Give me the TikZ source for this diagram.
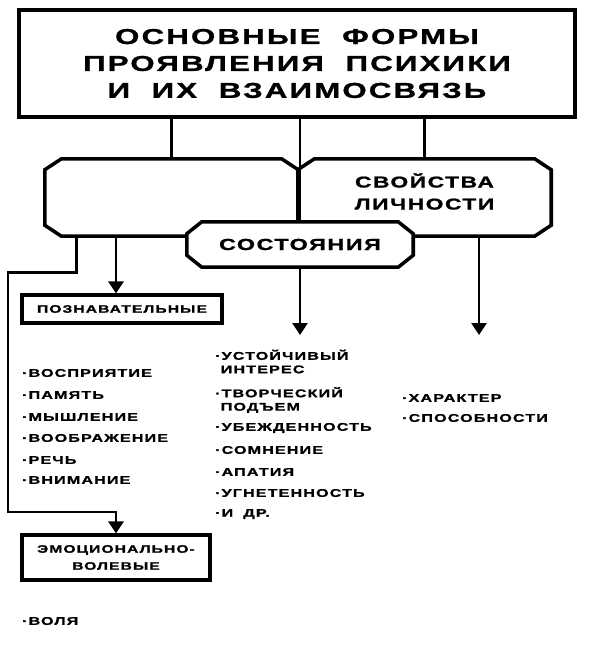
\documentclass[tikz,border=0pt]{standalone}
\usepackage{fontspec}
\newfontfamily\psyfont[FakeStretch=1.45,LetterSpace=10,BoldFeatures={FakeBold=1.2}]{Liberation Sans}
\usetikzlibrary{arrows.meta,positioning}

% octagonal frame round a node
\newcommand\octa[3]{\draw[line width=3pt,fill=white]
  ([xshift=#2]#1.north west) -- ([xshift=-#2]#1.north east) -- ([yshift=-#3]#1.north east)
  -- ([yshift=#3]#1.south east) -- ([xshift=-#2]#1.south east) -- ([xshift=#2]#1.south west)
  -- ([yshift=#3]#1.south west) -- ([yshift=-#3]#1.north west) -- cycle;}

\begin{document}
\begin{tikzpicture}[x=0.03cm,y=-0.03cm,
  every node/.style={font=\psyfont\bfseries},
  frame/.style={inner sep=0pt},
  plainbox/.style={draw,line width=2.6pt,fill=white,inner sep=0pt},
  link/.style={line width=2.4pt},
  arr/.style={link,-{Triangle[length=0.36cm,width=0.45cm]}},
  item/.style={anchor=west,align=left,font=\psyfont\bfseries\fontsize{9.5}{11.5}\selectfont}]
  \useasboundingbox (0,0) rectangle (591,651);
  % title
  \node[plainbox,line width=3.2pt,minimum width=16.68cm,minimum height=3.21cm,align=center,
    font=\psyfont\bfseries\fontsize{18.4}{23}\selectfont] (title) at (297,63.5)
    {ОСНОВНЫЕ\hspace{0.5em} ФОРМЫ\\ПРОЯВЛЕНИЯ\hspace{0.5em} ПСИХИКИ\\И\hspace{0.5em} ИХ\hspace{0.5em} ВЗАИМОСВЯЗЬ};
  % three forms
  \node[frame,minimum width=7.59cm,minimum height=2.31cm] (proc) at (171.5,197.5) {};
  \node[frame,minimum width=7.59cm,minimum height=2.31cm] (prop) at (424.5,197.5) {};
  \draw[link] (proc.north) -- (proc.north |- title.south);
  \draw[link] (prop.north) -- (prop.north |- title.south);
  \octa{proc}{0.5cm}{0.33cm}
  \octa{prop}{0.5cm}{0.33cm}
  \node[align=center,font=\psyfont\bfseries\fontsize{13.4}{18.8}\selectfont] (prop-text)
    at ([yshift=0.18cm]prop.center) {СВОЙСТВА\\ЛИЧНОСТИ};
  \node[frame,minimum width=6.78cm,minimum height=1.35cm] (state) at (300,244.5) {};
  \octa{state}{0.45cm}{0.36cm}
  \node[font=\psyfont\bfseries\fontsize{13.7}{16}\selectfont] (state-text) at (state.center) {СОСТОЯНИЯ};
  \draw[link] (state.north) -- (state.north |- title.south);
  % kinds of processes
  \node[plainbox,minimum width=6cm,minimum height=0.84cm,
    font=\psyfont\bfseries\fontsize{9.2}{10}\selectfont] (know) at (122,309) {ПОЗНАВАТЕЛЬНЫЕ};
  \node[plainbox,minimum width=5.64cm,minimum height=1.35cm,align=center,
    font=\psyfont\bfseries\fontsize{9.2}{14.5}\selectfont] (emo) at (116,557.5) {ЭМОЦИОНАЛЬНО-\\ВОЛЕВЫЕ};
  \coordinate (stateend) at (300,335);
  \coordinate (propend) at (479,335);
  \draw[arr] ([xshift=-0.18cm]know.north |- proc.south) -- ([xshift=-0.18cm]know.north);
  \draw[arr] (state.south) -- (stateend);
  \draw[arr] (propend |- prop.south) -- (propend);
  \draw[arr] ([xshift=0.96cm]proc.south west) -- ++(0,36) -| (8,512) -| (emo.north);
  % lists
  \foreach \y/\t [count=\i] in {373/ВОСПРИЯТИЕ,395/ПАМЯТЬ,417/МЫШЛЕНИЕ,438/ВООБРАЖЕНИЕ,460/РЕЧЬ,480/ВНИМАНИЕ}
    \node[item] (cog-\i) at (18,\y) {·\t};
  \foreach \y/\t [count=\i] in {361.5/{·УСТОЙЧИВЫЙ\\\ ИНТЕРЕС},400/{·ТВОРЧЕСКИЙ\\\ ПОДЪЕМ},428/·УБЕЖДЕННОСТЬ,
      450/·СОМНЕНИЕ,472/·АПАТИЯ,493/·УГНЕТЕННОСТЬ,514/{·И\hspace{0.4em} ДР.}}
    \node[item] (st-\i) at (211,\y) {\t};
  \foreach \y/\t [count=\i] in {398/ХАРАКТЕР,418/СПОСОБНОСТИ}
    \node[item] (pr-\i) at (398,\y) {·\t};
  \node[item] (will) at (18,621) {·ВОЛЯ};
\end{tikzpicture}
\end{document}
